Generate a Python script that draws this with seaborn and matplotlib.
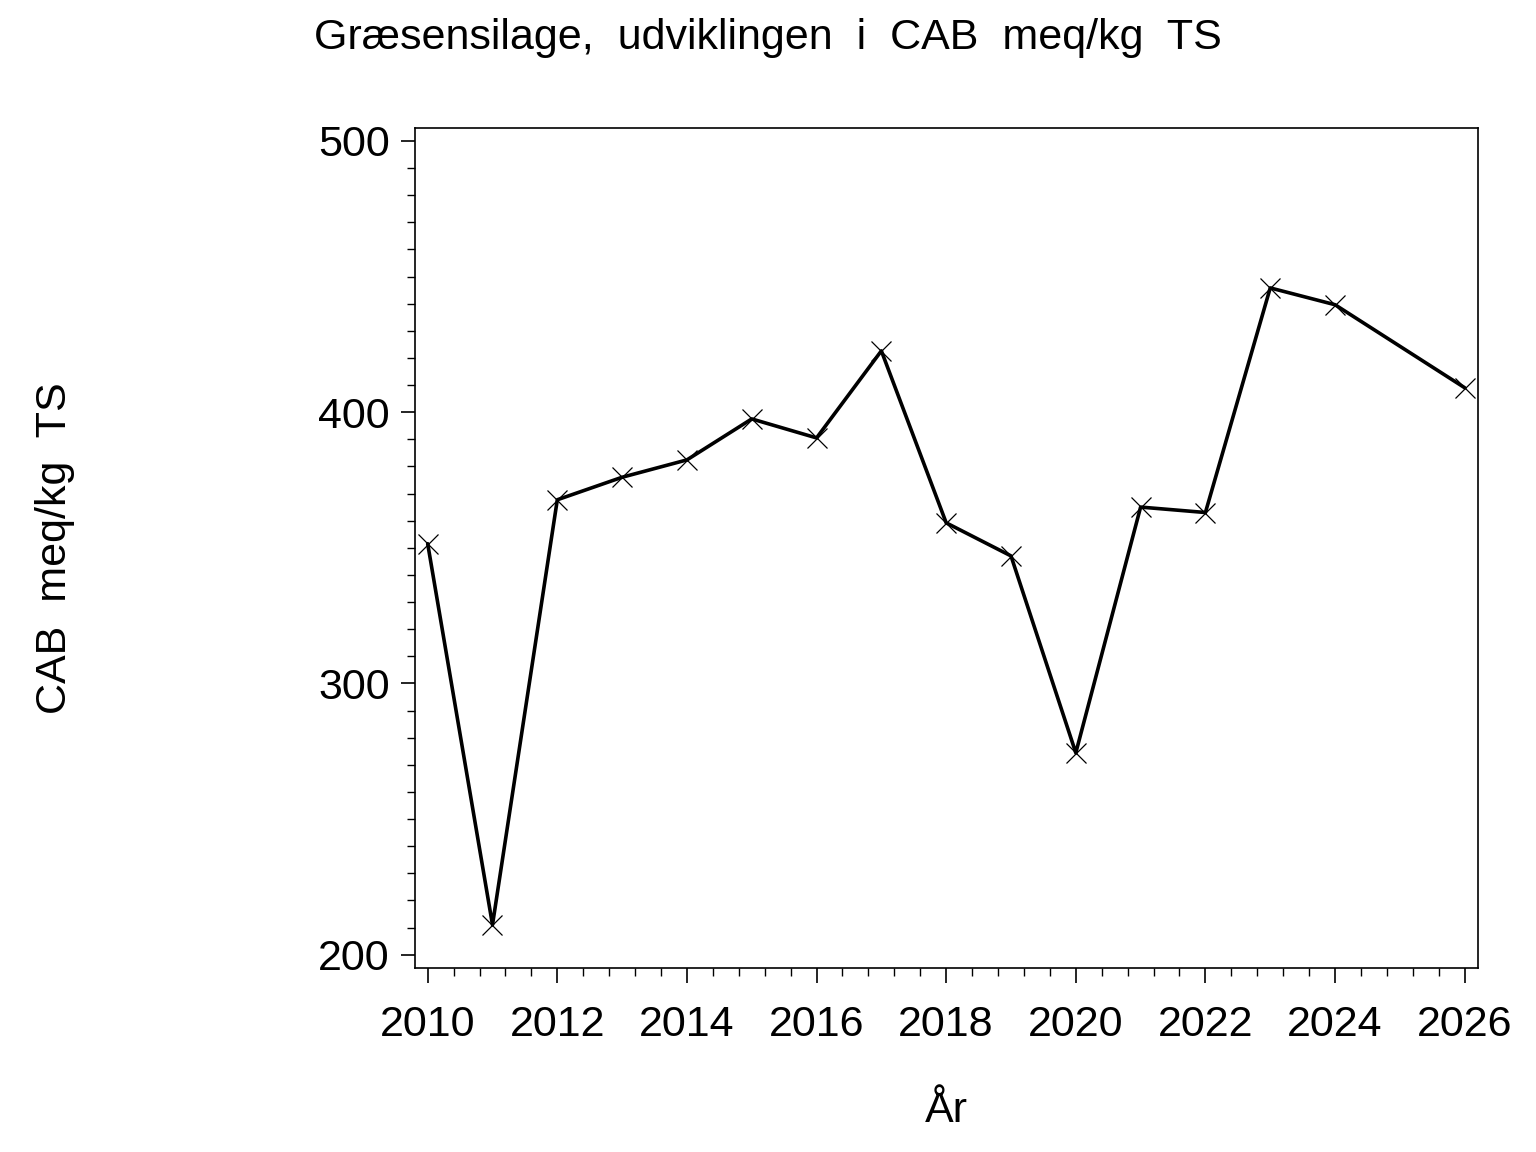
import numpy as np
import pandas as pd
import matplotlib
matplotlib.use("Agg")
import matplotlib.pyplot as plt
import seaborn as sns
from matplotlib.ticker import MultipleLocator

years = [2010, 2011, 2012, 2013, 2014, 2015, 2016, 2017, 2018, 2019,
         2020, 2021, 2022, 2023, 2024, 2026]
cab = [351.5, 211, 367.7, 376, 382.4, 397.5, 390.5, 422.6, 359.2, 347,
       274.4, 365, 363, 445.8, 439.6, 409]

df = pd.DataFrame({"År": years, "CAB": cab})

sns.set_style("ticks")
plt.rcParams['font.family'] = ['Liberation Sans', 'DejaVu Sans']
plt.rcParams['text.color'] = 'black'
plt.rcParams['xtick.color'] = 'black'
plt.rcParams['ytick.color'] = 'black'
plt.rcParams['xtick.labelcolor'] = 'black'
plt.rcParams['ytick.labelcolor'] = 'black'

fig = plt.figure(figsize=(15.36, 11.52), dpi=100)
ax = fig.add_axes([0.270, 0.160, 0.692, 0.729])

sns.lineplot(data=df, x="År", y="CAB", ax=ax, color="black", linewidth=2.6,
             marker="x", markersize=14, markeredgewidth=0.9,
             markeredgecolor="black")

ax.set_xlim(2009.8, 2026.2)
ax.set_ylim(195.2, 504.8)
ax.xaxis.set_major_locator(MultipleLocator(2))
ax.xaxis.set_minor_locator(MultipleLocator(0.4))
ax.yaxis.set_major_locator(MultipleLocator(100))
ax.yaxis.set_minor_locator(MultipleLocator(10))
ax.tick_params(which="major", length=10, width=1.2, labelsize=31,
               direction="out")
ax.tick_params(axis="x", which="major", length=11, pad=16)
ax.tick_params(axis="y", which="major", pad=8)
ax.tick_params(which="minor", length=5.5, width=1.0, direction="out")
for s in ax.spines.values():
    s.set_linewidth(1.2)
    s.set_color("black")

ax.set_xlabel("")
ax.set_ylabel("")
fig.text(0.5, 0.967, "Græsensilage,  udviklingen  i  CAB  meq/kg  TS",
         ha="center", va="center", fontsize=31)
fig.text(0.036, 0.524, "CAB  meq/kg  TS", rotation=90, ha="center",
         va="center", fontsize=31)
fig.text(0.616, 0.036, "År", ha="center", va="center", fontsize=31)

fig.savefig("out.png", dpi=100, facecolor="white")
